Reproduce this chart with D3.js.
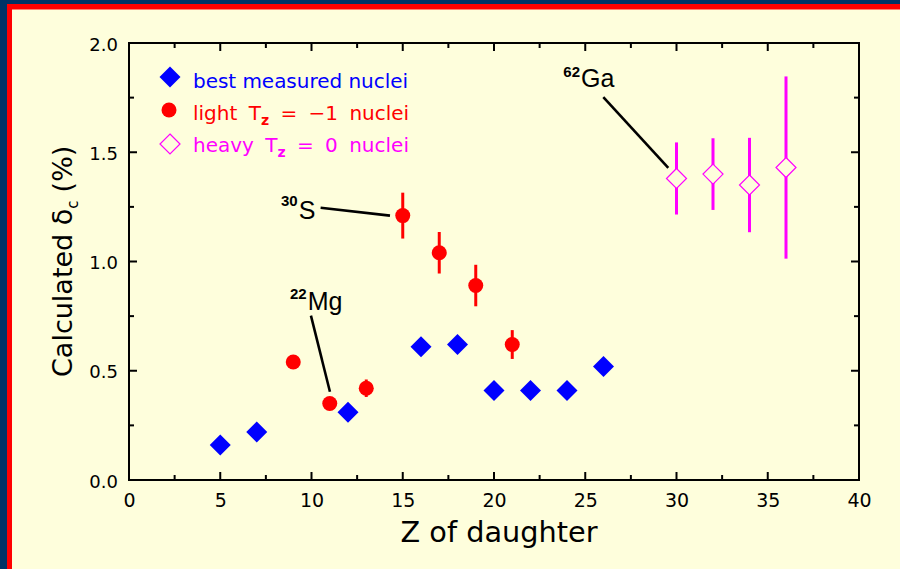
<!DOCTYPE html>
<html>
<head>
<meta charset="utf-8">
<script src="https://cdn.jsdelivr.net/npm/d3@7"></script>
<style>
  html, body { margin: 0; padding: 0; background: #fefedc; }
  svg { display: block; }
</style>
</head>
<body>
<svg id="chart" width="900" height="569"></svg>
<script>
// Isospin-symmetry-breaking correction delta_C versus Z of the daughter nucleus
const bestZ = [5, 7, 12, 16, 18, 20, 22, 24, 26];
const bestDelta = [0.16, 0.22, 0.31, 0.61, 0.62, 0.41, 0.41, 0.41, 0.52];

const lightZ = [9, 11, 13, 15, 17, 19, 21];
const lightDelta = [0.54, 0.35, 0.42, 1.21, 1.04, 0.89, 0.62];
const lightErr = [0.03, 0.03, 0.04, 0.105, 0.095, 0.095, 0.066];

const heavyZ = [30, 32, 34, 36];
const heavyDelta = [1.38, 1.40, 1.35, 1.43];
const heavyErr = [0.165, 0.164, 0.216, 0.417];

const xTicks = [0, 5, 10, 15, 20, 25, 30, 35, 40];
const yTicks = [0.0, 0.5, 1.0, 1.5, 2.0];

const legendLabels = ["best measured nuclei", "light", "heavy"];

// nuclide labels with leader lines (text anchor and line ends in data units)
const noteMass = ["30", "22", "62"];
const noteSymbol = ["S", "Mg", "Ga"];
const noteTextZ = [8.33, 8.82, 23.80];
const noteTextD = [1.194, 0.778, 1.797];
const noteSupShift = [-13, -11, -10];
const noteFromZ = [10.50, 9.97, 25.99];
const noteFromD = [1.246, 0.752, 1.752];
const noteToZ = [14.30, 11.01, 29.55];
const noteToD = [1.210, 0.404, 1.429];

const W = 900, H = 569;
const BG = "#fefedc";
const svg = d3.select("#chart");

// page frame: navy edge with a red inner band
svg.append("rect").attr("x", 0).attr("y", 0).attr("width", W).attr("height", H).attr("fill", "#003366");
svg.append("rect").attr("x", 7).attr("y", 4).attr("width", W - 7).attr("height", H - 4).attr("fill", "#ff0000");
svg.append("rect").attr("x", 12).attr("y", 9.5).attr("width", W - 12).attr("height", H - 9.5).attr("fill", BG);

const plot = { left: 129, right: 859, top: 43, bottom: 480 };
const x = d3.scaleLinear().domain([0, 40]).range([plot.left, plot.right]);
const y = d3.scaleLinear().domain([0, 2]).range([plot.bottom, plot.top]);

const font = "'DejaVu Sans', 'Liberation Sans', sans-serif";

// inward ticks on all four sides
const g = svg.append("g");
const xMinor = d3.range(2.5, 40, 5);
const yMinor = d3.range(0.25, 2, 0.5);
function tickSet(axis, vals, len) {
  vals.forEach(v => {
    if (axis === "x") {
      g.append("line").attr("x1", x(v)).attr("x2", x(v)).attr("y1", plot.bottom).attr("y2", plot.bottom - len)
        .attr("stroke", "#000").attr("stroke-width", 2);
      g.append("line").attr("x1", x(v)).attr("x2", x(v)).attr("y1", plot.top).attr("y2", plot.top + len)
        .attr("stroke", "#000").attr("stroke-width", 2);
    } else {
      g.append("line").attr("x1", plot.left).attr("x2", plot.left + len).attr("y1", y(v)).attr("y2", y(v))
        .attr("stroke", "#000").attr("stroke-width", 2);
      g.append("line").attr("x1", plot.right).attr("x2", plot.right - len).attr("y1", y(v)).attr("y2", y(v))
        .attr("stroke", "#000").attr("stroke-width", 2);
    }
  });
}
tickSet("x", xTicks.slice(1, -1), 8);
tickSet("x", xMinor, 5);
tickSet("y", yTicks.slice(1, -1), 8);
tickSet("y", yMinor, 5);

g.append("rect").attr("x", plot.left).attr("y", plot.top)
  .attr("width", plot.right - plot.left).attr("height", plot.bottom - plot.top)
  .attr("fill", "none").attr("stroke", "#000").attr("stroke-width", 2);

// tick labels via d3 axis generators (lines hidden, text only)
const xAxis = d3.axisBottom(x).tickValues(xTicks).tickFormat(d3.format("d")).tickSize(0).tickPadding(0);
const gx = svg.append("g").attr("transform", `translate(0,${plot.bottom})`).call(xAxis);
gx.select(".domain").remove();
gx.selectAll("text").attr("font-family", font).attr("font-size", 19).attr("fill", "#000")
  .attr("dy", null).attr("y", 27);

const yAxis = d3.axisLeft(y).tickValues(yTicks).tickFormat(d3.format(".1f")).tickSize(0).tickPadding(11);
const gy = svg.append("g").attr("transform", `translate(${plot.left},0)`).call(yAxis);
gy.select(".domain").remove();
gy.selectAll("text").attr("font-family", font).attr("font-size", 18).attr("fill", "#000")
  .attr("dy", null).attr("y", 7);

// axis titles
svg.append("text").attr("x", 400.5).attr("y", 541.5)
  .attr("font-family", font).attr("font-size", 29).attr("fill", "#000")
  .attr("textLength", 197).attr("lengthAdjust", "spacingAndGlyphs")
  .text("Z of daughter");

const yt = svg.append("text").attr("transform", "translate(72,377) rotate(-90)")
  .attr("font-family", font).attr("font-size", 27).attr("fill", "#000");
yt.append("tspan").text("Calculated δ");
yt.append("tspan").attr("font-size", 15).attr("dy", 6).text("c");
yt.append("tspan").attr("dy", -6).attr("dx", 8).text("(%)");

// marker shapes
const diamond = (cx, cy, r) => `M${cx},${cy - r}L${cx + r},${cy}L${cx},${cy + r}L${cx - r},${cy}Z`;

// leader lines for nuclide labels
noteMass.forEach((m, i) => {
  svg.append("line")
    .attr("x1", x(noteFromZ[i])).attr("y1", y(noteFromD[i]))
    .attr("x2", x(noteToZ[i])).attr("y2", y(noteToD[i]))
    .attr("stroke", "#000").attr("stroke-width", 2.6);
  const t = svg.append("text").attr("x", x(noteTextZ[i])).attr("y", y(noteTextD[i]))
    .attr("font-family", "'Liberation Sans', Arial, sans-serif").attr("fill", "#000");
  t.append("tspan").attr("font-size", 15).attr("font-weight", "bold")
    .attr("dy", noteSupShift[i]).text(m);
  t.append("tspan").attr("font-size", 25).attr("dx", 1)
    .attr("dy", -noteSupShift[i]).text(noteSymbol[i]);
});

// error bars
const bars = svg.append("g");
lightZ.forEach((z, i) => {
  bars.append("line").attr("x1", x(z)).attr("x2", x(z))
    .attr("y1", y(lightDelta[i] - lightErr[i])).attr("y2", y(lightDelta[i] + lightErr[i]))
    .attr("stroke", "#ff0000").attr("stroke-width", 3);
});
heavyZ.forEach((z, i) => {
  bars.append("line").attr("x1", x(z)).attr("x2", x(z))
    .attr("y1", y(heavyDelta[i] - heavyErr[i])).attr("y2", y(heavyDelta[i] + heavyErr[i]))
    .attr("stroke", "#ff00ff").attr("stroke-width", 3);
});

// data markers
svg.append("g").selectAll("path").data(bestZ).join("path")
  .attr("d", (z, i) => diamond(x(z), y(bestDelta[i]), 10.5))
  .attr("fill", "#0000ff");

svg.append("g").selectAll("circle").data(lightZ).join("circle")
  .attr("cx", z => x(z)).attr("cy", (z, i) => y(lightDelta[i])).attr("r", 7.5)
  .attr("fill", "#ff0000");

svg.append("g").selectAll("path").data(heavyZ).join("path")
  .attr("d", (z, i) => diamond(x(z), y(heavyDelta[i]), 10))
  .attr("fill", BG).attr("stroke", "#ff00ff").attr("stroke-width", 1.2);

// legend
const lg = svg.append("g");
lg.append("path").attr("d", diamond(170, 77, 10.5)).attr("fill", "#0000ff");
lg.append("circle").attr("cx", 169).attr("cy", 110).attr("r", 7.5).attr("fill", "#ff0000");
lg.append("path").attr("d", diamond(170, 144, 10)).attr("fill", BG).attr("stroke", "#ff00ff").attr("stroke-width", 1.2);

lg.append("text").attr("x", 193).attr("y", 88).attr("font-family", font).attr("font-size", 20)
  .attr("fill", "#0000ff").attr("textLength", 215).attr("lengthAdjust", "spacing")
  .text(legendLabels[0]);

function tzLine(yBase, color, prefix, value) {
  const t = lg.append("text").attr("x", 193).attr("y", yBase).attr("font-family", font)
    .attr("font-size", 20).attr("fill", color).attr("word-spacing", 5);
  t.append("tspan").text(prefix + " T");
  t.append("tspan").attr("font-size", 14).attr("font-weight", "bold").attr("dy", 5).text("z");
  t.append("tspan").attr("dy", -5).text(" = " + value + " nuclei");
}
tzLine(120, "#ff0000", legendLabels[1], "−1");
tzLine(152, "#ff00ff", legendLabels[2], "0");
</script>
</body>
</html>
